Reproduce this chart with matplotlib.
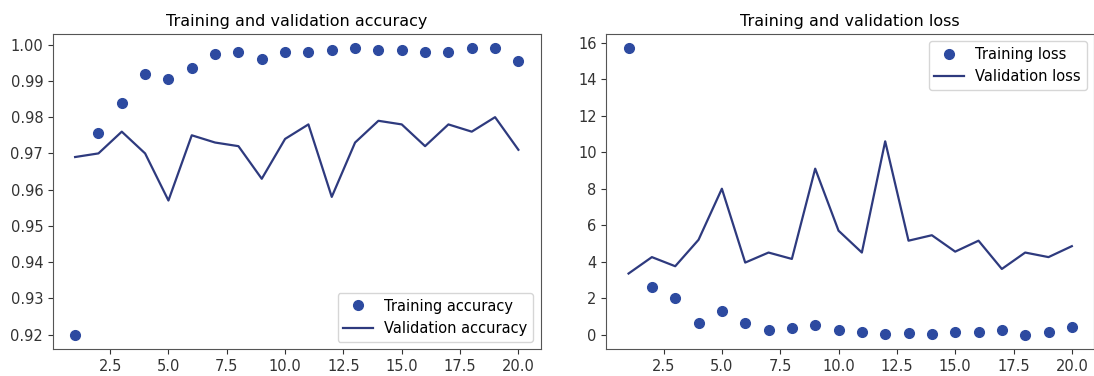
import numpy as np
import matplotlib
matplotlib.use("Agg")
import matplotlib.pyplot as plt

# values
epochs = list(range(1, 21))
acc = [0.920, 0.9755, 0.984, 0.992, 0.9905, 0.9935, 0.9975, 0.998, 0.996, 0.998,
       0.998, 0.9985, 0.999, 0.9985, 0.9985, 0.998, 0.998, 0.999, 0.999, 0.9955]
val_acc = [0.969, 0.970, 0.976, 0.970, 0.957, 0.975, 0.973, 0.972, 0.963, 0.974,
           0.978, 0.958, 0.973, 0.979, 0.978, 0.972, 0.978, 0.976, 0.980, 0.971]
loss = [15.7, 2.6, 2.0, 0.65, 1.3, 0.65, 0.25, 0.35, 0.5, 0.25,
        0.15, 0.05, 0.1, 0.05, 0.15, 0.15, 0.25, 0.0, 0.15, 0.4]
val_loss = [3.35, 4.25, 3.75, 5.2, 8.0, 3.95, 4.5, 4.15, 9.1, 5.7,
            4.5, 10.6, 5.15, 5.45, 4.55, 5.15, 3.6, 4.5, 4.25, 4.85]

dot_col = '#2d4aa0'
line_col = '#2e3a7e'

fig, (ax1, ax2) = plt.subplots(1, 2, figsize=(10.94, 3.76), dpi=100)
fig.subplots_adjust(left=0.0484, right=1.0, top=0.9096, bottom=0.072, wspace=0.135)

ax1.plot(epochs, acc, 'o', color=dot_col, markersize=7, label='Training accuracy')
ax1.plot(epochs, val_acc, '-', color=line_col, linewidth=1.6, label='Validation accuracy')
ax1.set_title('Training and validation accuracy', fontsize=11.5)
ax1.set_yticks(np.arange(0.92, 1.001, 0.01))
ax1.legend(loc='lower right', fontsize=10.5)

ax2.plot(epochs, loss, 'o', color=dot_col, markersize=7, label='Training loss')
ax2.plot(epochs, val_loss, '-', color=line_col, linewidth=1.6, label='Validation loss')
ax2.set_title('Training and validation loss', fontsize=11.5)
ax2.legend(loc='upper right', fontsize=10.5)

for ax in (ax1, ax2):
    ax.set_xticks([2.5, 5.0, 7.5, 10.0, 12.5, 15.0, 17.5, 20.0])
    ax.tick_params(labelsize=10.5, colors='#333333')
    for s in ax.spines.values():
        s.set_color('#555555')

fig.savefig('out.png')
